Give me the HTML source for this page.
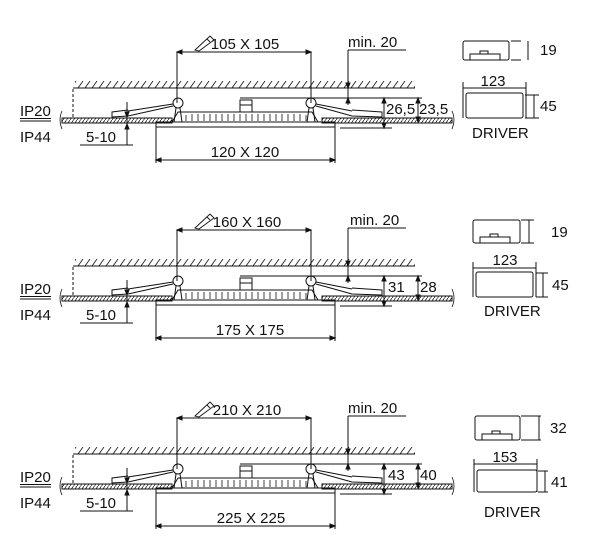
<!DOCTYPE html>
<html><head><meta charset="utf-8"><style>
html,body{margin:0;padding:0;background:#fff}
svg{display:block}
text{font-family:"Liberation Sans",sans-serif;fill:#111}
</style></head><body>
<svg width="600" height="558" viewBox="0 0 600 558" xmlns="http://www.w3.org/2000/svg">
<defs>
<pattern id="ceil" width="7" height="8" patternUnits="userSpaceOnUse"><line x1="1" y1="8" x2="6" y2="1" stroke="#222" stroke-width="0.9"/></pattern>
<pattern id="brd" width="3.5" height="5" patternUnits="userSpaceOnUse"><line x1="0" y1="5" x2="3.5" y2="0" stroke="#222" stroke-width="0.8"/></pattern>
<g id="fix" stroke="#111" fill="none" stroke-width="1">
  <rect x="75" y="81" width="340" height="7" fill="url(#ceil)" stroke="none"/>
  <line x1="73" y1="88" x2="415" y2="88"/>
  <line x1="73" y1="89" x2="73" y2="118" stroke-dasharray="3,2"/>
  <rect x="62" y="118" width="110" height="5" fill="url(#brd)"/>
  <rect x="322" y="118" width="130" height="5" fill="url(#brd)"/>
  <path d="M62,111 q-4,9 0,18 M452,111 q4,9 0,18" stroke-width="0.8"/>
  <rect x="156" y="122" width="179" height="5"/>
  <path d="M172,122 L178,112 L312,112 L318,122"/>
  <path d="M186,121 v-6 M192,121 v-7 M198,121 v-7 M204,121 v-7 M210,121 v-7 M216,121 v-7 M222,121 v-7 M228,121 v-7 M234,121 v-7 M240,121 v-7 M246,121 v-7 M252,121 v-7 M258,121 v-7 M264,121 v-7 M270,121 v-7 M276,121 v-7 M282,121 v-7 M288,121 v-7 M294,121 v-7 M300,121 v-7 M306,121 v-6" stroke-width="0.8"/>
  <rect x="240" y="100" width="12" height="12"/>
  <line x1="240" y1="105" x2="252" y2="105"/>
  <circle cx="178" cy="103" r="5"/><circle cx="311" cy="103" r="5"/>
  <path d="M176,108 L174,122 M180,108 L182,122 M309,108 L307,122 M313,108 L315,122"/>
  <path d="M173,104 L128,111 M128,110 L112,112 L112,117 L128,116 L173,106"/>
  <path d="M316,104 L352,111 M352,110 L382,112 L382,117 L352,116 L316,106"/>
  <line x1="177" y1="52" x2="177" y2="103"/><line x1="311" y1="52" x2="311" y2="103"/>
  <line x1="177" y1="52" x2="311" y2="52"/>
  <path d="M177,52 l5,-2 v4 z M311,52 l-5,-2 v4 z" fill="#111"/>
  <line x1="156" y1="127" x2="156" y2="163"/><line x1="335" y1="127" x2="335" y2="163"/>
  <line x1="156" y1="160" x2="335" y2="160"/>
  <path d="M156,160 l5,-2 v4 z M335,160 l-5,-2 v4 z" fill="#111"/>
  <path d="M348,50 L406,50 M348,50 L348,105"/>
  <path d="M348,88 l-2,-5 h4 z M348,98 l-2,5 h4 z" fill="#111"/>
  <line x1="240" y1="98" x2="422" y2="98"/>
  <line x1="384" y1="98" x2="384" y2="128"/>
  <line x1="418" y1="98" x2="418" y2="122"/>
  <line x1="340" y1="128" x2="392" y2="128"/>
  <path d="M384,98 l-2,5 h4 z M384,128 l-2,-5 h4 z M418,98 l-2,5 h4 z M418,122 l-2,-5 h4 z" fill="#111"/>
  <line x1="20" y1="118.5" x2="51" y2="118.5"/><line x1="20" y1="121" x2="51" y2="121"/>
  <path d="M80,145 L133,145 M127,102 L127,145"/>
  <path d="M127,117 l-2,-5 h4 z M127,124 l-2,5 h4 z" fill="#111"/>
  <path d="M195,50 L210,36 L214,40 L199,51 z M207,39 l3,3" stroke-width="0.9"/>
</g>
</defs>

<use href="#fix"/>
<g font-size="15">
<text x="245" y="49" text-anchor="middle">105 X 105</text>
<text x="348" y="47">min. 20</text>
<text x="245" y="157" text-anchor="middle">120 X 120</text>
<text x="386" y="114">26,5</text>
<text x="419" y="114">23,5</text>
<text x="20" y="116">IP20</text>
<text x="20" y="142">IP44</text>
<text x="86" y="142">5-10</text>
</g>

<use href="#fix" y="178"/>
<g font-size="15" transform="translate(0,178)">
<text x="247" y="49" text-anchor="middle">160 X 160</text>
<text x="350" y="47">min. 20</text>
<text x="250" y="157" text-anchor="middle">175 X 175</text>
<text x="388" y="114">31</text>
<text x="420" y="114">28</text>
<text x="20" y="116">IP20</text>
<text x="20" y="142">IP44</text>
<text x="86" y="142">5-10</text>
</g>

<use href="#fix" y="366"/>
<g font-size="15" transform="translate(0,366)">
<text x="247" y="49" text-anchor="middle">210 X 210</text>
<text x="348" y="47">min. 20</text>
<text x="251" y="157" text-anchor="middle">225 X 225</text>
<text x="388" y="114">43</text>
<text x="420" y="114">40</text>
<text x="20" y="116">IP20</text>
<text x="20" y="142">IP44</text>
<text x="86" y="142">5-10</text>
</g>

<g stroke="#111" fill="none" stroke-width="1">
  <rect x="463" y="41" width="46" height="19" rx="2"/>
  <path d="M470,60 v-6 h30 v6 M480,54 v-3 h8 v3"/>
  <path d="M511,41 h10 M511,60 h10 M528,41 v19"/>
  <rect x="466" y="93" width="57" height="25" rx="2"/>
  <path d="M463,82 v36 M526,82 v36 M463,88 h63 M525,95 h14 M525,118 h14 M534,95 v23"/>

  <rect x="473" y="220" width="47" height="23" rx="2"/>
  <path d="M480,243 v-6 h30 v6 M490,237 v-3 h8 v3"/>
  <path d="M521,220 h13 M521,243 h13 M529,220 v23"/>
  <rect x="476" y="272" width="57" height="25" rx="2"/>
  <path d="M473,262 v35 M536,262 v35 M473,268 h63 M536,273 h12 M536,297 h12 M543,273 v24"/>

  <rect x="475" y="416" width="45" height="24" rx="2"/>
  <path d="M482,440 v-6 h30 v6 M492,434 v-3 h8 v3"/>
  <path d="M521,416 h20 M521,440 h20 M539,416 v24"/>
  <rect x="477" y="470" width="60" height="22" rx="2"/>
  <path d="M474,459 v33 M537,459 v33 M474,464 h63 M538,471 h10 M538,492 h10 M545,471 v21"/>
</g>
<g font-size="15">
<text x="540" y="55">19</text>
<text x="493" y="86" text-anchor="middle">123</text>
<text x="540" y="111">45</text>
<text x="472" y="138">DRIVER</text>
<text x="551" y="237">19</text>
<text x="505" y="265" text-anchor="middle">123</text>
<text x="552" y="290">45</text>
<text x="484" y="316">DRIVER</text>
<text x="550" y="433">32</text>
<text x="505" y="462" text-anchor="middle">153</text>
<text x="551" y="487">41</text>
<text x="484" y="517">DRIVER</text>
</g>
</svg>
</body></html>
